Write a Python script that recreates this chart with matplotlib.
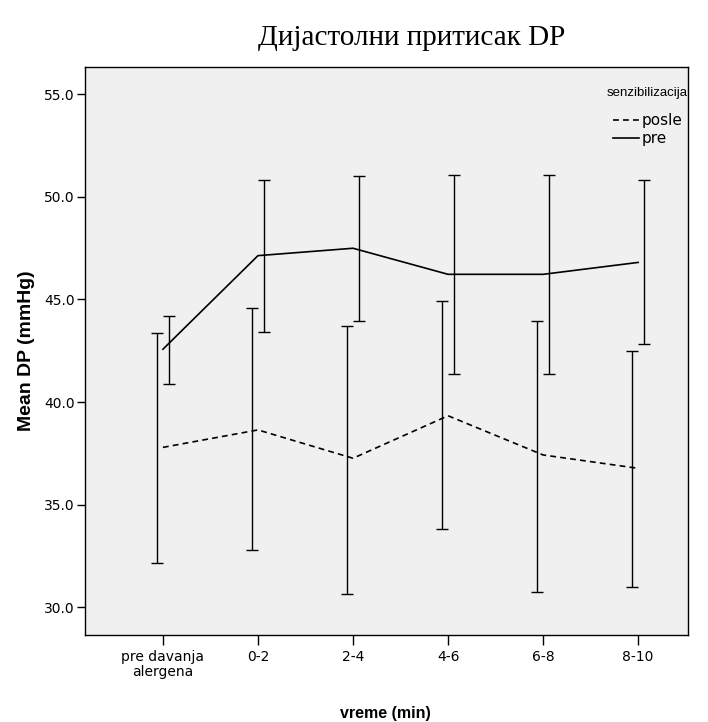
#!/usr/bin/env python3
import numpy as np
import matplotlib.pyplot as plt
from matplotlib.lines import Line2D

categories = ["pre davanja\nalergena", "0-2", "2-4", "4-6", "6-8", "8-10"]

# mean DP and 95% CI bounds per group
posle_mean = [37.79, 38.64, 37.26, 39.33, 37.42, 36.77]
posle_low = [32.16, 32.78, 30.66, 33.81, 30.76, 31.00]
posle_high = [43.36, 44.59, 43.70, 44.94, 43.94, 42.48]

pre_mean = [42.57, 47.13, 47.49, 46.22, 46.22, 46.80]
pre_low = [40.89, 43.42, 43.94, 41.36, 41.36, 42.83]
pre_high = [44.18, 50.82, 51.02, 51.06, 51.06, 50.82]

yticks = [30, 35, 40, 45, 50, 55]

plt.rcParams['font.family'] = ['DejaVu Sans']

fig = plt.figure(figsize=(7.08, 7.22), dpi=100)
ax = fig.add_axes([0.120, 0.1205, 0.852, 0.787])
ax.set_facecolor("#f0f0f0")

x = np.arange(len(categories))
off = 0.063
dash = (0, (3.5, 2.5))

ax.plot(x, posle_mean, color="black", lw=1.2, ls=dash)
ax.plot(x, pre_mean, color="black", lw=1.2, ls="-")

for xs, m, lo, hi in [(x - off, posle_mean, posle_low, posle_high),
                      (x + off, pre_mean, pre_low, pre_high)]:
    m = np.array(m)
    yerr = [m - np.array(lo), np.array(hi) - m]
    ax.errorbar(xs, m, yerr=yerr, fmt="none", ecolor="black",
                elinewidth=1.0, capsize=4.3, capthick=1.0)

ax.set_xlim(-0.82, 5.526)
ax.set_ylim(28.65, 56.33)
ax.set_xticks(x)
ax.set_xticklabels(categories, fontsize=10, linespacing=1.15)
ax.set_yticks(yticks)
ax.set_yticklabels([f"{v:.1f}" for v in yticks], fontsize=10)
ax.tick_params(axis="both", direction="out", width=1.0, color="black")
ax.tick_params(axis="y", length=6, pad=1.2)
ax.tick_params(axis="x", length=7.5, pad=3)
for s in ax.spines.values():
    s.set_linewidth(1.0)
    s.set_color("black")

ax.set_ylabel("Mean DP (mmHg)", fontsize=14, fontweight="bold",
              family=["Liberation Sans"], labelpad=7)
fig.text(0.545, 0.001, "vreme (min)", fontsize=11.5, fontweight="bold",
         family=["Liberation Sans"], ha="center", va="bottom")

fig.text(0.582, 0.947, "Дијастолни притисак DP", fontsize=21,
         family=["Liberation Serif", "DejaVu Serif"], ha="center", va="center")

# legend: title as separate text, entries below it
fig.text(688 / 708, 1 - 92.7 / 722, "senzibilizacija", fontsize=9.5,
         family=["Liberation Sans"], ha="right", va="center")
handles = [Line2D([], [], color="black", lw=1.2, ls=dash),
           Line2D([], [], color="black", lw=1.2, ls="-")]
ax.legend(handles, ["posle", "pre"], loc="upper left",
          bbox_to_anchor=(613 / 708, 1 - 113 / 722),
          bbox_transform=fig.transFigure, frameon=False, fontsize=11,
          handlelength=1.7, handletextpad=0.15, labelspacing=0.2,
          borderpad=0, borderaxespad=0)

fig.savefig("out.png", dpi=100)
